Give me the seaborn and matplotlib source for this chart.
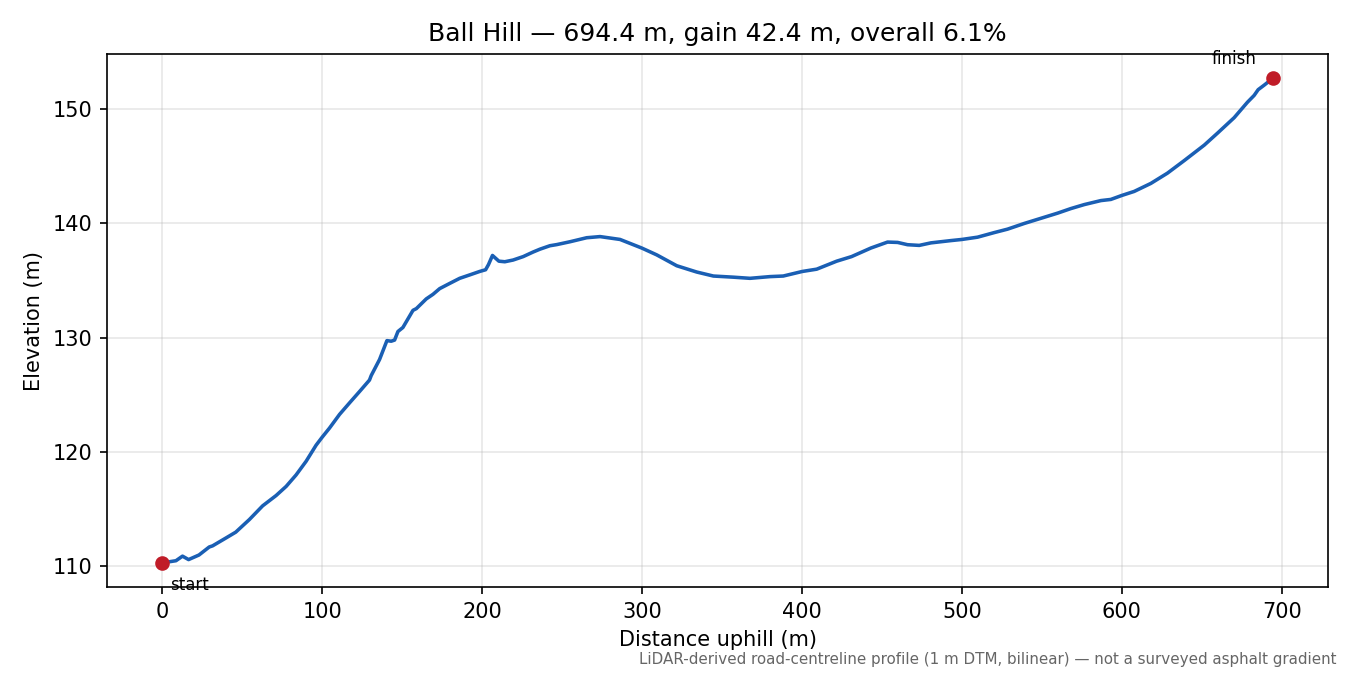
import numpy as np
import pandas as pd
import matplotlib
matplotlib.use('Agg')
import matplotlib.pyplot as plt
import seaborn as sns

# Perfil de elevação (distância em m, elevação em m)
distance = [0, 4, 8.6, 12.7, 16.5, 23, 29.4, 31.5, 40, 46, 54.5, 62.8, 71.2, 77.5,
            83.7, 90, 96.2, 100, 104.6, 110.9, 117.1, 123.4, 126.5, 129.6, 130.7,
            135.9, 140.5, 143.2, 145.3, 147.4, 150.5, 156.8, 158.9, 165.1, 169.3,
            173.5, 179.7, 186, 192.3, 198.5, 202.2, 204, 206.5, 210.5, 214.2, 219.4,
            225.7, 231.9, 236.2, 242.4, 246.7, 255, 265.4, 273.75, 286.25, 299.8,
            309.2, 321.7, 334.2, 344.6, 357.1, 367.5, 380, 388.3, 400.2, 409.2,
            421.7, 431, 443.1, 453.5, 459.8, 466, 473.3, 480.6, 493.1, 500, 509.8,
            520.2, 528.5, 539, 549.4, 559.8, 568.1, 576.5, 586.9, 593.1, 600, 607.7,
            618.1, 628.5, 639, 651.5, 659.8, 670.2, 678.5, 682.7, 685.2, 689, 694.4]
elevation = [110.3, 110.4, 110.5, 110.9, 110.6, 111.0, 111.7, 111.8, 112.5, 113.0,
             114.1, 115.3, 116.2, 117.0, 118.0, 119.2, 120.6, 121.3, 122.1, 123.3,
             124.3, 125.3, 125.8, 126.3, 126.7, 128.1, 129.75, 129.7, 129.8, 130.55,
             130.9, 132.4, 132.55, 133.4, 133.8, 134.3, 134.75, 135.2, 135.5, 135.8,
             135.95, 136.4, 137.2, 136.7, 136.65, 136.8, 137.1, 137.5, 137.75, 138.05,
             138.15, 138.4, 138.75, 138.85, 138.6, 137.85, 137.25, 136.3, 135.75,
             135.4, 135.3, 135.2, 135.35, 135.4, 135.8, 136.0, 136.7, 137.1, 137.85,
             138.37, 138.34, 138.14, 138.08, 138.3, 138.5, 138.6, 138.8, 139.2, 139.5,
             140.0, 140.45, 140.9, 141.3, 141.65, 142.0, 142.1, 142.45, 142.8, 143.5,
             144.4, 145.5, 146.85, 147.9, 149.25, 150.6, 151.2, 151.7, 152.1, 152.7]

title = 'Ball Hill — 694.4 m, gain 42.4 m, overall 6.1%'
footnote = 'LiDAR-derived road-centreline profile (1 m DTM, bilinear) — not a surveyed asphalt gradient'

line_color = '#1a5fb4'
dot_color = '#c01c28'

profile = pd.DataFrame({'distance': distance, 'elevation': elevation})

fig, ax = plt.subplots(figsize=(9, 4.5), dpi=150)

sns.lineplot(data=profile, x='distance', y='elevation', ax=ax,
             color=line_color, linewidth=1.7)

# Pontos de início e fim
ends = profile.iloc[[0, -1]]
ax.plot(ends['distance'], ends['elevation'], 'o', color=dot_color,
        markersize=6, zorder=3)
ax.annotate('start', (ends['distance'].iloc[0], ends['elevation'].iloc[0]),
            xytext=(4, -6), textcoords='offset points', ha='left', va='top',
            fontsize=8)
ax.annotate('finish', (ends['distance'].iloc[1], ends['elevation'].iloc[1]),
            xytext=(-8, 5), textcoords='offset points', ha='right', va='bottom',
            fontsize=8)

ax.set_title(title, fontsize=12)
ax.set_xlabel('Distance uphill (m)')
ax.set_ylabel('Elevation (m)')
ax.grid(True, alpha=0.3)
ax.set_axisbelow(True)

fig.text(0.99, 0.012, footnote, ha='right', va='bottom', fontsize=7.25, color='#666666')

fig.subplots_adjust(left=0.079, right=0.984, top=0.92, bottom=0.13)
fig.savefig('out.png', dpi=150)
